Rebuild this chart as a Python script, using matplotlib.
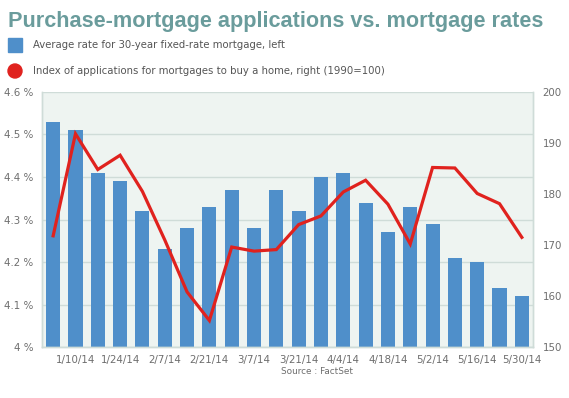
import matplotlib.pyplot as plt
import numpy as np

# weekly data, 1/3/14 .. 5/30/14
weeks = ['1/3/14', '1/10/14', '1/17/14', '1/24/14', '1/31/14', '2/7/14', '2/14/14', '2/21/14',
         '2/28/14', '3/7/14', '3/14/14', '3/21/14', '3/28/14', '4/4/14', '4/11/14', '4/18/14',
         '4/25/14', '5/2/14', '5/9/14', '5/16/14', '5/23/14', '5/30/14']
rate = [4.53, 4.51, 4.41, 4.39, 4.32, 4.23, 4.28, 4.33, 4.37, 4.28, 4.37,
        4.32, 4.40, 4.41, 4.34, 4.27, 4.33, 4.29, 4.21, 4.20, 4.14, 4.12]
index = [171.8, 191.8, 184.8, 187.6, 180.5, 171.0, 160.8, 155.2, 169.6, 168.8, 169.1,
         174.0, 175.7, 180.4, 182.7, 178.0, 170.2, 185.2, 185.1, 180.1, 178.1, 171.5]

left_ticks = [4.0, 4.1, 4.2, 4.3, 4.4, 4.5, 4.6]
left_labels = ['4 %', '4.1 %', '4.2 %', '4.3 %', '4.4 %', '4.5 %', '4.6 %']
right_ticks = [150, 160, 170, 180, 190, 200]

blue = '#4f8fca'
red = '#e0221e'
grey = '#6e6e6e'
gridc = '#cfdcd8'

fig = plt.figure(figsize=(5.69, 3.98), dpi=100)
ax = fig.add_axes([42/569, 51/398, 491/569, 255/398])
ax.set_facecolor('#eef4f1')

x = np.arange(len(weeks))
ax.bar(x, rate, width=0.63, color=blue, zorder=2)
ax.set_ylim(4.0, 4.6)
ax.set_xlim(-0.5, len(weeks) - 0.5)
ax.set_yticks(left_ticks)
ax.set_yticklabels(left_labels)
ax.yaxis.grid(True, color=gridc, linewidth=1, zorder=0)
ax.set_axisbelow(True)
ax.set_xticks(x[1::2])
ax.set_xticklabels(weeks[1::2])
ax.tick_params(length=0, colors=grey, labelsize=7.4, pad=6)
ax.tick_params(axis='y', pad=6)

ax2 = ax.twinx()
ax2.plot(x, index, color=red, linewidth=2.3, solid_joinstyle='miter', zorder=3)
ax2.set_ylim(150, 200)
ax2.set_yticks(right_ticks)
ax2.tick_params(length=0, colors=grey, labelsize=7.4, pad=7)

for a in (ax, ax2):
    for s in a.spines.values():
        s.set_color(gridc)
        s.set_linewidth(1)
    a.spines['top'].set_visible(False)

fig.text(8/569, 1 - 27/398, 'Purchase-mortgage applications vs. mortgage rates',
         family='Liberation Sans', weight='bold', fontsize=15.6, color='#6a9c9c', va='baseline')

fig.patches.append(plt.Rectangle((8/569, 1 - 52/398), 14/569, 14/398, transform=fig.transFigure,
                                 color=blue, figure=fig))
fig.add_artist(plt.matplotlib.patches.Ellipse((15/569, 1 - 71/398), 14/569, 14/398,
                                              transform=fig.transFigure, color=red))
fig.text(33/569, 1 - 45/398, 'Average rate for 30-year fixed-rate mortgage, left',
         fontsize=7.3, color='#555555', va='center')
fig.text(33/569, 1 - 71/398, 'Index of applications for mortgages to buy a home, right (1990=100)',
         fontsize=7.3, color='#555555', va='center')
fig.text(317/569, 1 - 372/398, 'Source : FactSet', fontsize=6.4, color=grey, ha='center', va='center')

fig.savefig('out.png', dpi=100)
